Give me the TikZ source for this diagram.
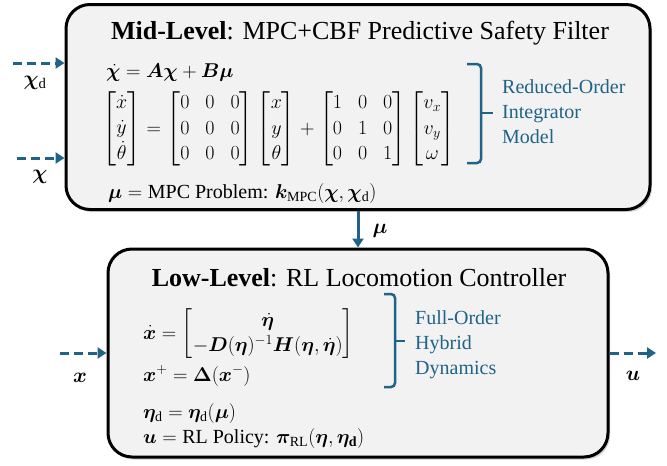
\RequirePackage{fix-cm}
\documentclass[tikz,border=0pt]{standalone}
\usepackage{amsmath,bm}
\usepackage{fontspec}
\setmainfont{Liberation Serif}
\usetikzlibrary{arrows.meta,shadows}
\definecolor{flowblue}{RGB}{31,99,135}
\definecolor{boxgray}{RGB}{242,242,242}
\tikzset{
  levelbox/.style={draw=black,line width=3pt,fill=boxgray,rounded corners=24pt,
    drop shadow={shadow xshift=2pt,shadow yshift=-2.5pt,opacity=0.35}},
  flow/.style={draw=flowblue,line width=3pt,-{Triangle[length=9pt,width=11pt]}},
  flowdash/.style={flow,dash pattern=on 9pt off 5pt},
  bracket/.style={draw=flowblue,line width=2.5pt,rounded corners=4pt},
  title/.style={inner sep=0pt,font=\fontsize{26}{31}\selectfont},
  eqn/.style={anchor=west,inner sep=0pt,font=\fontsize{20}{24}\selectfont},
  note/.style={anchor=west,align=left,text=flowblue,inner sep=0pt,font=\fontsize{20}{25}\selectfont},
  sig/.style={inner sep=0pt,font=\fontsize{21}{25}\selectfont}
}

\begin{document}
\begin{tikzpicture}[x=1pt,y=-1pt]
\useasboundingbox (0,0) rectangle (667,466);

% the two level boxes
\node[levelbox,minimum width=584pt,minimum height=205pt] (mid) at (358,107) {};
\node[levelbox,minimum width=500pt,minimum height=208pt] (low) at (358,353) {};

% mid level
\node[title] (midtitle) at (360,33) {\textbf{Mid-Level}: MPC+CBF Predictive Safety Filter};
\node[eqn] (rom) at (106,73) {$\dot{\bm{\chi}} = \bm{A}\bm{\chi} + \bm{B}\bm{\mu}$};
\node[eqn] (romfull) at (102,129) {\setlength{\arraycolsep}{8pt}\renewcommand{\arraystretch}{1.05}%
  $\begin{bmatrix}\dot{x}\\ \dot{y}\\ \dot{\theta}\end{bmatrix}
  = \begin{bmatrix}0&0&0\\0&0&0\\0&0&0\end{bmatrix}
  \begin{bmatrix}x\\ y\\ \theta\end{bmatrix}
  + \begin{bmatrix}1&0&0\\0&1&0\\0&0&1\end{bmatrix}
  \begin{bmatrix}v_x\\ v_y\\ \omega\end{bmatrix}$};
\node[eqn] (mpc) at (108,193) {$\bm{\mu} = \text{MPC Problem: } \bm{k}_{\mathrm{MPC}}(\bm{\chi},\bm{\chi}_{\mathrm{d}})$};
\draw[bracket] (467,64) -- (481,64) -- (481,163) -- (467,163);
\draw[bracket] (481,113) -- (493,113);
\node[note] (romnote) at (502,112) {Reduced-Order\\Integrator\\Model};

% low level
\node[title] (lowtitle) at (359,278) {\textbf{Low-Level}: RL Locomotion Controller};
\node[eqn] (fom) at (143,334) {\renewcommand{\arraystretch}{1.05}%
  $\dot{\bm{x}} = \begin{bmatrix}\dot{\bm{\eta}}\\ -\bm{D}(\bm{\eta})^{-1}\bm{H}(\bm{\eta},\dot{\bm{\eta}})\end{bmatrix}$};
\node[eqn] (impact) at (143,376) {$\bm{x}^{+} = \bm{\Delta}(\bm{x}^{-})$};
\node[eqn] (des) at (143,413) {$\bm{\eta}_{\mathrm{d}} = \bm{\eta}_{\mathrm{d}}(\bm{\mu})$};
\node[eqn] (pol) at (143,438) {$\bm{u} = \text{RL Policy: } \bm{\pi}_{\mathrm{RL}}(\bm{\eta},\bm{\eta}_{\mathbf{d}})$};
\draw[bracket] (384,294) -- (395,294) -- (395,387) -- (384,387);
\draw[bracket] (395,341) -- (405,341);
\node[note] (fomnote) at (415,345) {Full-Order\\Hybrid\\Dynamics};

% signals
\coordinate (chidin) at (13,63);
\coordinate (chiin) at (17,158);
\coordinate (xin) at (60,353);
\coordinate (uout) at (656,353);
\draw[flowdash] (chidin) -- (chidin -| mid.west);
\draw[flowdash] (chiin) -- (chiin -| mid.west);
\draw[flow] (mid.south) -- (low.north);
\draw[flowdash] (xin) -- (low.west);
\draw[flowdash] (low.east) -- (uout);
\node[sig] (chidlabel) at (35,83) {$\bm{\chi}_{\mathrm{d}}$};
\node[sig] (chilabel) at (40,177) {$\bm{\chi}$};
\node[sig] (mulabel) at (380,231) {$\bm{\mu}$};
\node[sig] (xlabel) at (80,378) {$\bm{x}$};
\node[sig] (ulabel) at (633,376) {$\bm{u}$};
\end{tikzpicture}
\end{document}
